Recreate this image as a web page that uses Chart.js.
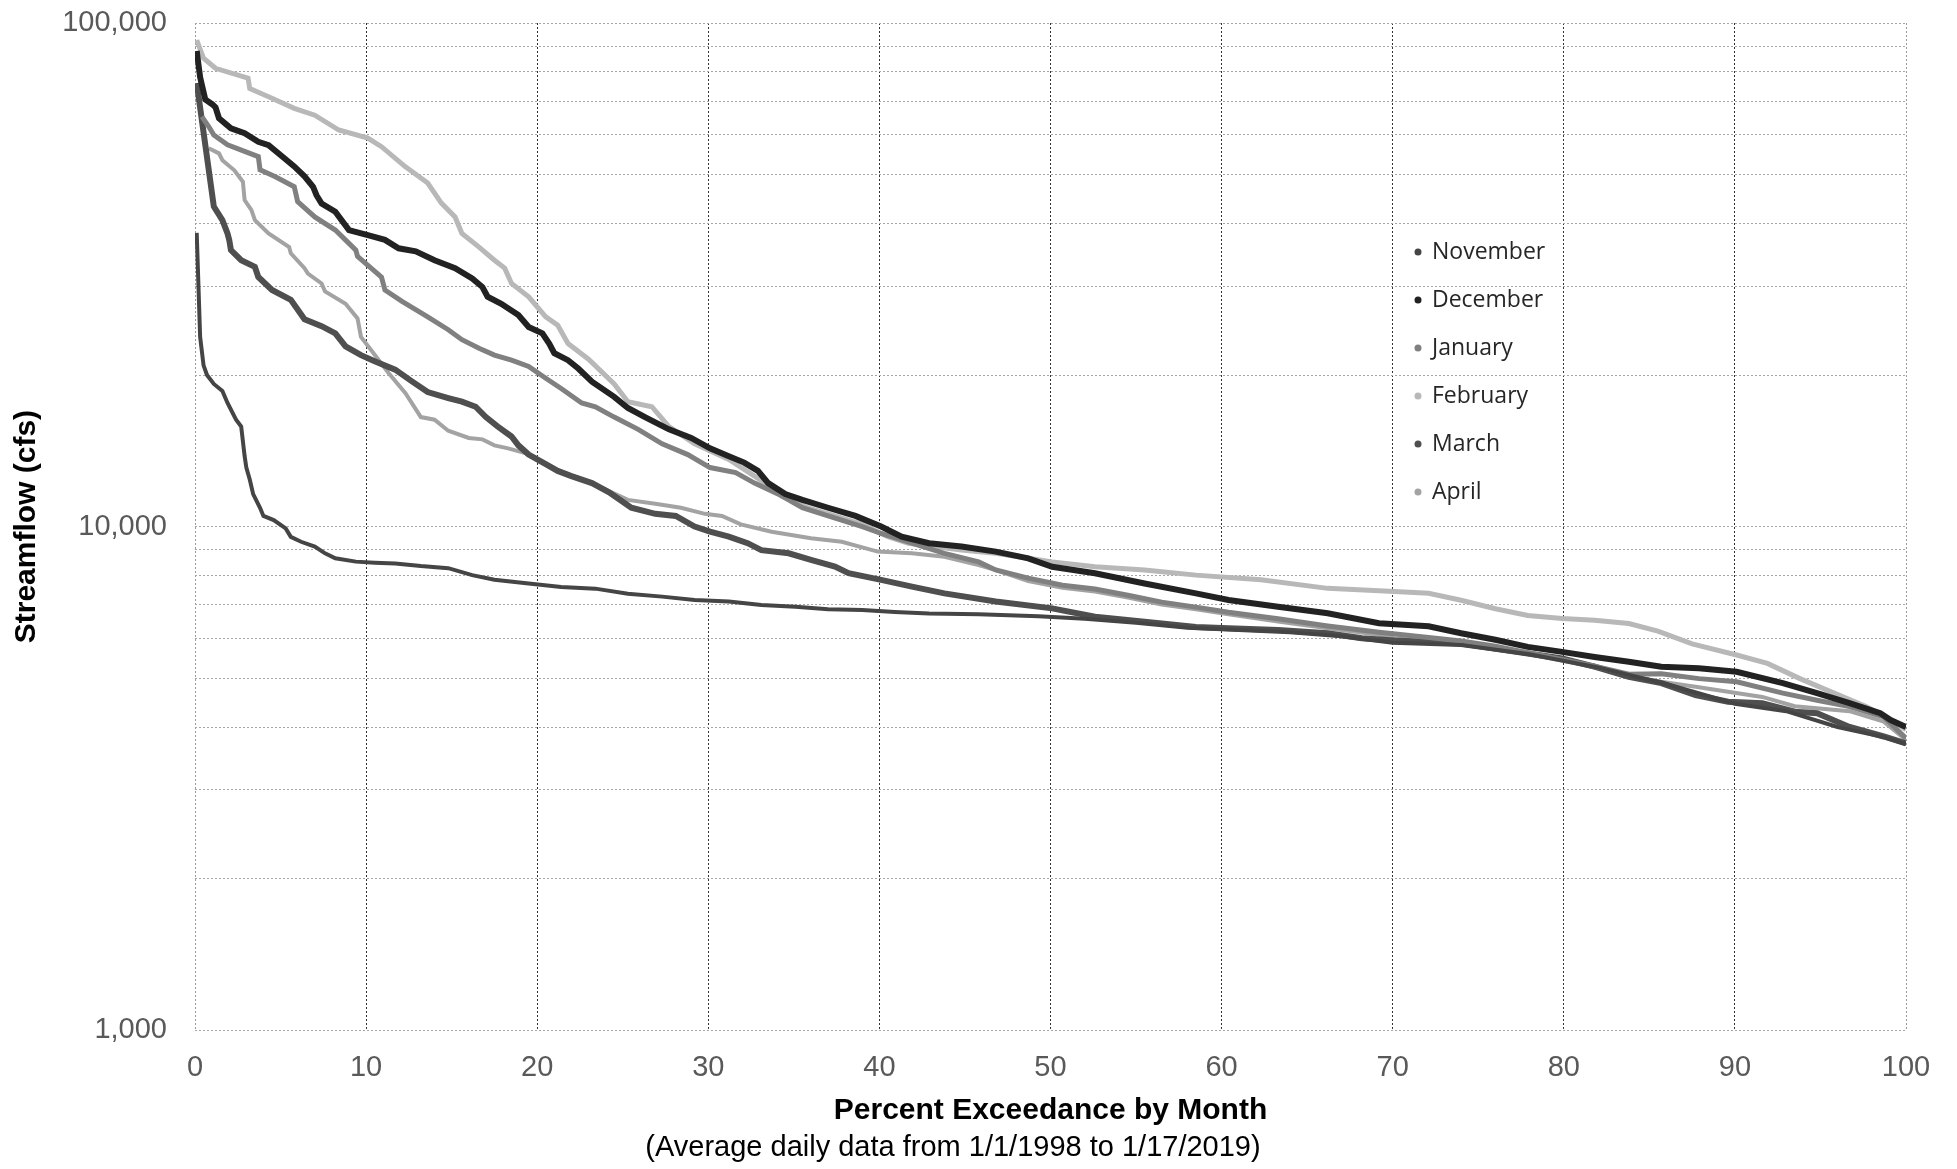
<!DOCTYPE html>
<html lang="en">
<head>
    <meta charset="UTF-8">
    <title>Percent Exceedance by Month</title>
    <style>
        body {
            margin: 0;
            background: #ffffff;
        }
        #chartBox {
            width: 1957px;
            height: 1169px;
        }
    </style>
</head>
<body>
    <div id="chartBox">
        <canvas id="flowChart" width="1957" height="1169"></canvas>
    </div>

    <script src="https://cdn.jsdelivr.net/npm/chart.js@4.4.0/dist/chart.umd.min.js"></script>
    <script>

    // [percent exceedance, streamflow cfs]
    const november = [
        [0.1, 38300], [0.3, 23800], [0.5, 20900], [0.7, 20000], [1.1, 19200], [1.6, 18600],
        [1.9, 17600], [2.4, 16300], [2.7, 15800], [2.9, 13800], [3.0, 13100], [3.2, 12400],
        [3.4, 11600], [3.8, 10900], [4.0, 10500], [4.6, 10300], [5.3, 9920], [5.6, 9540],
        [6.2, 9330], [7.0, 9130], [7.6, 8850], [8.2, 8650], [9.4, 8520], [10.5, 8480],
        [11.7, 8450], [13.2, 8350], [14.8, 8270], [16.2, 8010], [17.5, 7840], [19.5, 7710],
        [21.4, 7590], [23.4, 7530], [25.3, 7360], [27.3, 7260], [29.2, 7150], [31.2, 7100],
        [33.1, 6990], [35.1, 6930], [37.0, 6850], [39.0, 6830], [40.9, 6770], [42.9, 6720],
        [45.8, 6700], [49.3, 6640], [52.0, 6560], [55.0, 6440], [58.0, 6300], [61.0, 6230],
        [64.0, 6170], [67.0, 6060], [70.0, 5880], [74.0, 5820], [78.0, 5580], [82.0, 5250],
        [86.0, 4870], [90.0, 4450], [93.0, 4300], [96.0, 4000], [98.7, 3820], [100, 3700]
    ];
    const december = [
        [0.1, 88000], [0.3, 78000], [0.6, 70500], [1.0, 69000], [1.2, 68000], [1.4, 64700],
        [2.1, 61800], [2.9, 60400], [3.7, 58100], [4.3, 57200], [5.1, 54300], [5.8, 51900],
        [6.4, 49600], [6.9, 47300], [7.1, 45500], [7.4, 43800], [8.2, 42200], [9.0, 38800],
        [10.1, 37900], [11.1, 37100], [11.9, 35700], [12.9, 35200], [14.0, 33800], [15.2, 32600],
        [16.2, 31100], [16.8, 29900], [17.1, 28600], [17.9, 27700], [18.9, 26300], [19.5, 24900],
        [20.3, 24200], [20.7, 23100], [21.0, 22100], [21.8, 21400], [22.4, 20600], [23.2, 19400],
        [24.5, 18100], [25.3, 17200], [26.3, 16500], [27.7, 15600], [29.0, 15000], [30.1, 14300],
        [31.2, 13800], [32.1, 13400], [32.9, 12900], [33.5, 12200], [34.5, 11600], [35.5, 11300],
        [37.0, 10900], [38.6, 10500], [40.1, 10000], [41.3, 9550], [42.9, 9270], [44.8, 9130],
        [46.8, 8920], [48.7, 8650], [50.1, 8320], [52.6, 8080], [55.5, 7710], [58.5, 7370],
        [60.4, 7150], [63.3, 6930], [66.2, 6730], [69.2, 6430], [72.1, 6340], [74.0, 6140],
        [76.0, 5960], [77.9, 5770], [79.9, 5640], [81.8, 5510], [83.8, 5390], [85.7, 5270],
        [87.9, 5230], [90.1, 5150], [92.8, 4890], [94.8, 4670], [96.7, 4460], [98.5, 4260],
        [99.1, 4130], [100, 4000]
    ];
    const january = [
        [0.4, 65200], [0.8, 62300], [1.1, 59900], [1.9, 57300], [2.9, 55600], [3.7, 54300],
        [3.8, 51100], [4.7, 49500], [5.8, 47300], [6.0, 44200], [7.0, 41200], [8.2, 38800],
        [9.4, 35400], [9.5, 34400], [10.9, 31300], [11.1, 29500], [12.1, 28000], [13.6, 26100],
        [14.8, 24600], [15.6, 23500], [16.6, 22600], [17.5, 21900], [18.5, 21400], [19.5, 20800],
        [20.5, 19700], [21.4, 18800], [22.6, 17600], [23.4, 17300], [24.5, 16500], [25.9, 15600],
        [27.3, 14600], [28.8, 13900], [30.1, 13100], [31.6, 12800], [32.7, 12200], [34.1, 11600],
        [35.5, 10900], [37.0, 10500], [39.0, 10000], [40.1, 9690], [41.9, 9270], [43.8, 8850],
        [45.8, 8510], [46.8, 8200], [48.7, 7900], [50.7, 7650], [52.6, 7520], [54.6, 7300],
        [56.5, 7080], [58.5, 6920], [60.4, 6760], [63.3, 6560], [66.2, 6350], [69.2, 6170],
        [72.1, 6020], [74.0, 5930], [76.0, 5790], [77.9, 5620], [79.9, 5450], [81.8, 5280],
        [83.8, 5090], [85.7, 5100], [87.9, 4990], [90.1, 4920], [92.8, 4670], [94.8, 4520],
        [96.7, 4390], [98.7, 4190], [100, 3800]
    ];
    const february = [
        [0.1, 92500], [0.5, 85100], [1.2, 81300], [3.1, 77700], [3.2, 74100], [4.3, 71400],
        [5.8, 67700], [7.0, 65600], [8.4, 61300], [10.1, 59100], [10.9, 56800], [12.3, 51800],
        [13.6, 48100], [14.4, 43900], [15.2, 41200], [15.6, 38200], [16.6, 35900], [17.5, 33800],
        [18.1, 32600], [18.5, 30400], [19.5, 28600], [20.5, 26100], [21.2, 25100], [21.8, 23100],
        [23.0, 21500], [24.5, 19200], [25.3, 17700], [26.7, 17300], [27.7, 15800], [29.2, 14600],
        [31.2, 13600], [32.7, 12600], [34.3, 11500], [35.8, 10900], [37.4, 10500], [39.0, 10100],
        [40.5, 9550], [41.7, 9270], [44.8, 8980], [46.8, 8850], [48.7, 8650], [50.1, 8510],
        [52.6, 8320], [55.5, 8200], [58.5, 8010], [62.3, 7840], [66.2, 7540], [70.1, 7430],
        [72.1, 7370], [74.0, 7140], [76.0, 6870], [77.9, 6660], [79.9, 6570], [81.8, 6520],
        [83.8, 6420], [85.5, 6200], [87.5, 5850], [90.1, 5560], [91.9, 5350], [93.8, 4990],
        [95.8, 4670], [97.7, 4390], [99.1, 4130], [100, 3950]
    ];
    const march = [
        [0.1, 76000], [1.1, 43200], [1.6, 40600], [1.9, 38200], [2.0, 37100], [2.1, 35400],
        [2.7, 33800], [3.5, 32800], [3.7, 31300], [4.5, 29500], [5.6, 28200], [6.4, 25800],
        [7.4, 25000], [8.2, 24200], [8.8, 22800], [9.7, 21900], [10.5, 21300], [11.7, 20500],
        [12.7, 19400], [13.6, 18500], [14.8, 18000], [15.6, 17700], [16.4, 17300], [17.0, 16500],
        [17.7, 15800], [18.5, 15100], [18.9, 14500], [19.5, 13900], [20.5, 13300], [21.2, 12900],
        [22.0, 12600], [23.2, 12200], [24.2, 11700], [25.5, 10900], [26.9, 10600], [28.1, 10500],
        [29.2, 10000], [30.1, 9770], [31.2, 9550], [32.3, 9270], [33.1, 8980], [34.7, 8850],
        [36.0, 8590], [37.4, 8330], [38.2, 8080], [40.1, 7840], [41.9, 7600], [43.8, 7370],
        [46.8, 7100], [50.1, 6880], [52.6, 6620], [55.5, 6470], [58.5, 6320], [60.4, 6280],
        [63.3, 6230], [66.2, 6140], [68.2, 6000], [70.1, 5940], [74.0, 5860], [77.9, 5600],
        [79.9, 5470], [81.8, 5270], [83.8, 5030], [85.7, 4890], [87.7, 4630], [89.6, 4490],
        [91.6, 4460], [93.5, 4290], [94.8, 4260], [96.7, 4000], [98.7, 3830], [100, 3710]
    ];
    const april = [
        [0.8, 56400], [1.4, 55100], [1.6, 53400], [2.3, 51000], [2.8, 48400], [2.9, 44500],
        [3.3, 42500], [3.5, 40600], [4.3, 38200], [5.5, 35900], [5.6, 34900], [6.4, 32600],
        [6.6, 31800], [7.4, 30400], [7.6, 29300], [8.8, 27700], [9.5, 25900], [9.7, 23800],
        [10.3, 22400], [11.3, 20200], [12.3, 18400], [13.2, 16500], [14.0, 16300], [14.8, 15500],
        [16.0, 15000], [16.8, 14900], [17.5, 14500], [18.3, 14300], [19.3, 14000], [21.0, 13000],
        [22.4, 12500], [23.4, 12100], [25.3, 11300], [26.9, 11100], [28.4, 10900], [29.8, 10600],
        [30.8, 10500], [31.9, 10100], [33.7, 9770], [36.0, 9480], [37.8, 9330], [39.9, 8920],
        [41.9, 8850], [43.8, 8710], [45.8, 8390], [46.8, 8200], [48.7, 7800], [50.7, 7560],
        [52.6, 7430], [54.6, 7220], [56.5, 7000], [58.5, 6850], [60.4, 6700], [63.3, 6480],
        [66.2, 6280], [69.2, 6100], [70.1, 6000], [72.1, 5950], [74.0, 5880], [76.0, 5750],
        [77.9, 5580], [79.9, 5420], [81.8, 5250], [83.8, 5050], [85.7, 4920], [87.7, 4810],
        [89.6, 4700], [91.6, 4590], [93.5, 4400], [96.7, 4300], [98.7, 4100], [100, 3770]
    ];

    const monthNames = ["November", "December", "January", "February", "March", "April"];
    const monthSeries = [november, december, january, february, march, april];
    const monthColors = ["#454545", "#222222", "#808080", "#b8b8b8", "#4f4f4f", "#a3a3a3"];
    const monthWidths = [4, 6, 5, 5, 6, 4];

    const flowTicks = [1000, 2000, 3000, 4000, 5000, 6000, 7000, 8000, 9000,
                       10000, 20000, 30000, 40000, 50000, 60000, 70000, 80000, 90000, 100000];
    const pctTicks = [0, 10, 20, 30, 40, 50, 60, 70, 80, 90, 100];

    const xTitle = "Percent Exceedance by Month";
    const xSubtitle = "(Average daily data from 1/1/1998 to 1/17/2019)";
    const yTitle = "Streamflow (cfs)";

    // legend sits inside the plot, like the original
    const innerLegend = {
        id: "innerLegend",
        afterDatasetsDraw(chart) {
            const ctx = chart.ctx;
            const area = chart.chartArea;
            ctx.save();
            ctx.font = "23px 'Open Sans'";
            ctx.textBaseline = "middle";
            ctx.textAlign = "left";
            chart.data.datasets.forEach((ds, i) => {
                const y = area.top + 229 + i * 48;
                const x = 1418;
                ctx.fillStyle = ds.borderColor;
                ctx.beginPath();
                ctx.arc(x, y, 3.5, 0, Math.PI * 2);
                ctx.fill();
                ctx.fillStyle = "#262626";
                ctx.fillText(ds.label, x + 14, y);
            });
            ctx.restore();
        }
    };

    const ctx = document.getElementById("flowChart").getContext("2d");

    const chart = new Chart(ctx, {
        type: "scatter",
        data: {
            datasets: monthSeries.map((series, i) => ({
                label: monthNames[i],
                data: series.map(p => ({x: p[0], y: p[1]})),
                showLine: true,
                borderColor: monthColors[i],
                backgroundColor: monthColors[i],
                borderWidth: monthWidths[i],
                pointRadius: 0,
                tension: 0
            }))
        },
        options: {
            responsive: false,
            animation: false,
            devicePixelRatio: 1,
            events: [],
            layout: {
                padding: {top: 23, right: 51, left: 0, bottom: 0}
            },
            scales: {
                x: {
                    type: "linear",
                    min: 0,
                    max: 100,
                    afterBuildTicks: scale => {
                        scale.ticks = pctTicks.map(v => ({value: v}));
                    },
                    afterFit: scale => { scale.height = 100; },
                    grid: {
                        drawTicks: false,
                        color: c => (c.tick && (c.tick.value === 0 || c.tick.value === 100)) ? "#9a9a9a" : "#333333",
                        lineWidth: 1
                    },
                    border: {display: false, dash: [2, 2]},
                    ticks: {
                        padding: 20,
                        color: "#595959",
                        font: {family: "'Liberation Sans', Arial", size: 29}
                    },
                    title: {
                        display: true,
                        text: xTitle,
                        color: "#000000",
                        padding: {top: 0, bottom: 1},
                        font: {family: "'Liberation Sans', Arial", size: 30, weight: "bold"}
                    }
                },
                y: {
                    type: "logarithmic",
                    min: 1000,
                    max: 100000,
                    afterBuildTicks: scale => {
                        scale.ticks = flowTicks.map(v => ({value: v}));
                    },
                    afterFit: scale => {
                        scale.width = 195;
                        // labels may overhang the plot edge, as in the original
                        scale.paddingTop = 0;
                        scale.paddingBottom = 0;
                    },
                    grid: {
                        drawTicks: false,
                        color: "#a6a6a6",
                        lineWidth: 1
                    },
                    border: {display: false, dash: [2, 2]},
                    ticks: {
                        autoSkip: false,
                        padding: 28,
                        color: "#595959",
                        font: {family: "'Liberation Sans', Arial", size: 29},
                        callback: function(value) {
                            const lg = Math.log10(value);
                            if (Math.abs(lg - Math.round(lg)) < 1e-9) {
                                return value.toLocaleString("en-US");
                            }
                            return "";
                        }
                    },
                    title: {
                        display: true,
                        text: yTitle,
                        color: "#000000",
                        padding: {top: 9, bottom: 0},
                        font: {family: "'Liberation Sans', Arial", size: 30, weight: "bold"}
                    }
                }
            },
            plugins: {
                legend: {display: false},
                tooltip: {enabled: false},
                subtitle: {
                    display: true,
                    position: "bottom",
                    text: xSubtitle,
                    color: "#000000",
                    padding: {top: 0, bottom: 4},
                    font: {family: "'Liberation Sans', Arial", size: 29, weight: "normal"}
                }
            }
        },
        plugins: [innerLegend]
    });

    </script>
</body>
</html>
